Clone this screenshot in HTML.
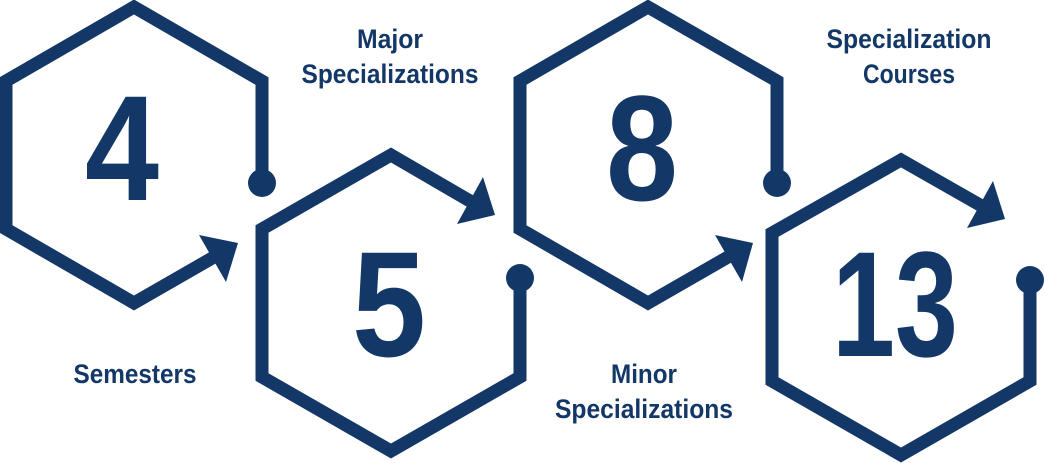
<!DOCTYPE html>
<html><head><meta charset="utf-8"><style>
html,body{margin:0;padding:0;background:#fff;width:1045px;height:463px;overflow:hidden}
svg{display:block}
.n{font-family:"Liberation Sans",Arial,sans-serif;font-weight:bold;font-size:150px;fill:#133867}
.l{font-family:"Liberation Sans",Arial,sans-serif;font-weight:bold;font-size:27px;fill:#133867}
</style></head><body>
<svg width="1045" height="463" viewBox="0 0 1045 463" xmlns="http://www.w3.org/2000/svg">
<g fill="none" stroke="#133867" stroke-width="13" stroke-linejoin="miter">
<path d="M262,172 L262,81 L134,7 L6,81 L6,229 L134,303 L214,257"/>
<path d="M520,290 L520,377 L391,451 L262,377 L262,229 L391,155 L470,201"/>
<path d="M777,172 L777,81 L648,7 L520,81 L520,229 L648,303 L728,257"/>
<path d="M1030,292 L1030,381 L901,455 L772,381 L772,233 L901,160 L980,205"/>
</g>
<g fill="#133867">
<circle cx="262" cy="183" r="14"/>
<circle cx="520" cy="278" r="14"/>
<circle cx="777" cy="183" r="14"/>
<circle cx="1030" cy="280" r="14"/>
<polygon points="238,243 199,235 226,282"/>
<polygon points="495,215 483,177 457,224"/>
<polygon points="753,243 715,235 742,282"/>
<polygon points="1005,219 993,181 967,228"/>
</g>
<text class="n" x="122" y="200" text-anchor="middle" textLength="74" lengthAdjust="spacingAndGlyphs">4</text>
<text class="n" x="389" y="356" text-anchor="middle" textLength="74" lengthAdjust="spacingAndGlyphs">5</text>
<text class="n" x="642" y="200" text-anchor="middle" textLength="72" lengthAdjust="spacingAndGlyphs">8</text>
<text class="n" x="895" y="356" text-anchor="middle" textLength="126" lengthAdjust="spacingAndGlyphs">13</text>
<text class="l" x="390" y="48" text-anchor="middle" textLength="66" lengthAdjust="spacingAndGlyphs">Major</text>
<text class="l" x="390" y="83" text-anchor="middle" textLength="177" lengthAdjust="spacingAndGlyphs">Specializations</text>
<text class="l" x="135" y="383" text-anchor="middle" textLength="123" lengthAdjust="spacingAndGlyphs">Semesters</text>
<text class="l" x="909" y="48" text-anchor="middle" textLength="165" lengthAdjust="spacingAndGlyphs">Specialization</text>
<text class="l" x="909" y="83" text-anchor="middle" textLength="92" lengthAdjust="spacingAndGlyphs">Courses</text>
<text class="l" x="644" y="383" text-anchor="middle" textLength="66" lengthAdjust="spacingAndGlyphs">Minor</text>
<text class="l" x="644" y="418" text-anchor="middle" textLength="178" lengthAdjust="spacingAndGlyphs">Specializations</text>
</svg>
</body></html>
